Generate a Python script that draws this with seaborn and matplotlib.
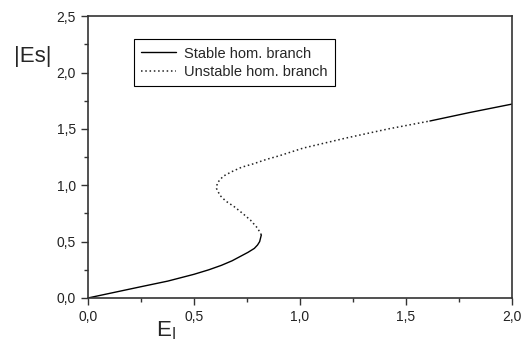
import numpy as np
import pandas as pd
import matplotlib
matplotlib.use("Agg")
import matplotlib.pyplot as plt
import seaborn as sns
from matplotlib.ticker import MultipleLocator, FuncFormatter

# values
stable_low_ei = [0.0, 0.125, 0.25, 0.377, 0.50, 0.57, 0.63, 0.68, 0.72, 0.755, 0.785, 0.80, 0.81, 0.818]
stable_low_es = [0.0, 0.05, 0.10, 0.15, 0.21, 0.25, 0.29, 0.33, 0.37, 0.405, 0.44, 0.47, 0.50, 0.56]

unstable_ei = [0.818, 0.80, 0.767, 0.73, 0.69, 0.65, 0.623, 0.607, 0.61, 0.638,
               0.678, 0.725, 0.78, 0.843, 0.90, 1.016, 1.22, 1.417, 1.613]
unstable_es = [0.56, 0.62, 0.69, 0.75, 0.81, 0.86, 0.91, 0.97, 1.02, 1.08,
               1.12, 1.16, 1.19, 1.23, 1.26, 1.33, 1.42, 1.50, 1.57]

stable_high_ei = [1.613, 1.80, 2.0]
stable_high_es = [1.57, 1.645, 1.72]

sns.set_style("ticks")
plt.rcParams['font.family'] = ['Liberation Sans', 'DejaVu Sans']

fig = plt.figure(figsize=(5.23, 3.51), dpi=100)
ax = fig.add_axes([0.168, 0.151, 0.811, 0.803])

sns.lineplot(x=stable_low_ei, y=stable_low_es, sort=False, estimator=None,
             color="black", linewidth=1.0, ax=ax, label="Stable hom. branch")
sns.lineplot(x=unstable_ei, y=unstable_es, sort=False, estimator=None,
             color="#222222", linewidth=1.1, linestyle=(0, (1, 1.8)), ax=ax,
             label="Unstable hom. branch")
sns.lineplot(x=stable_high_ei, y=stable_high_es, sort=False, estimator=None,
             color="black", linewidth=1.0, ax=ax)

ax.set_xlim(0, 2.0)
ax.set_ylim(0, 2.5)
ax.xaxis.set_major_locator(MultipleLocator(0.5))
ax.xaxis.set_minor_locator(MultipleLocator(0.25))
ax.yaxis.set_major_locator(MultipleLocator(0.5))
ax.yaxis.set_minor_locator(MultipleLocator(0.25))
comma = FuncFormatter(lambda v, p: f"{v:.1f}".replace(".", ","))
ax.xaxis.set_major_formatter(comma)
ax.yaxis.set_major_formatter(comma)
ax.tick_params(which="major", direction="out", length=5, width=1.0,
               labelsize=10, colors="#333333", labelcolor="#222222")
ax.tick_params(which="minor", direction="out", length=3, width=1.0, colors="#333333")
for s in ax.spines.values():
    s.set_visible(True)
    s.set_linewidth(1.2)
    s.set_color("#333333")

ax.set_xlabel("")
ax.set_ylabel("")
fig.text(0.062, 0.838, "|Es|", fontsize=16, ha="center", va="center")
fig.text(0.318, 0.058, r"E$_\mathregular{I}$", fontsize=16, ha="center", va="center")

leg = ax.legend(loc="upper left", bbox_to_anchor=(0.108, 0.918), fontsize=10.5,
                frameon=True, fancybox=False, edgecolor="black", framealpha=1,
                handlelength=2.4, handletextpad=0.55, borderpad=0.5,
                labelspacing=0.3, borderaxespad=0)
leg.get_frame().set_linewidth(0.8)

fig.savefig("out.png", dpi=100)
